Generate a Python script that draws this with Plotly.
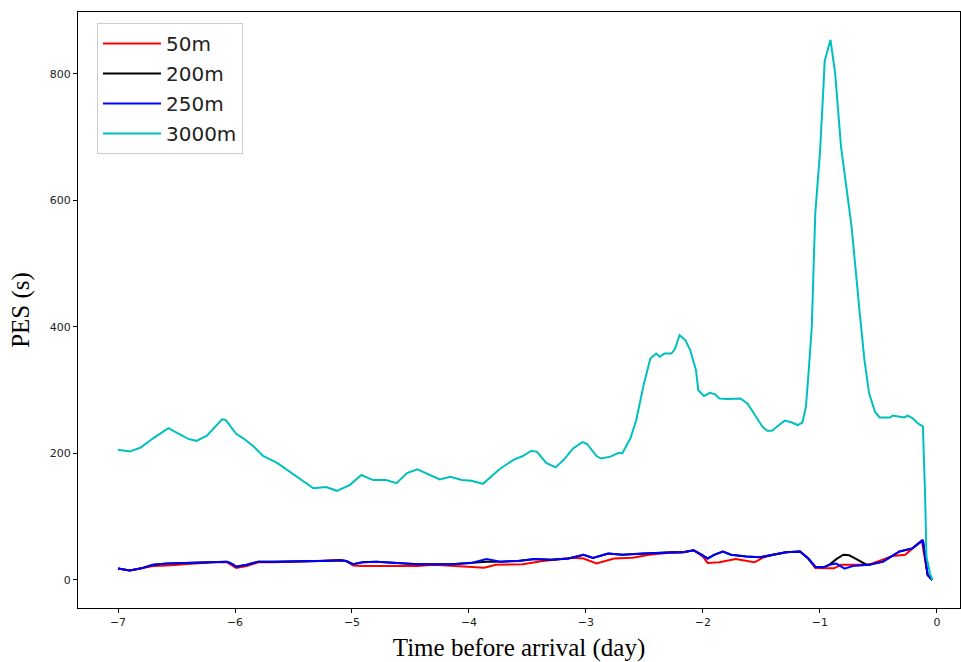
import plotly.graph_objects as go

# 3000m series
x_3000 = [-7.0,-6.9,-6.81,-6.70,-6.57,-6.40,-6.33,-6.24,-6.11,-6.08,-5.99,-5.93,-5.84,-5.76,-5.64,-5.50,-5.42,-5.33,-5.22,-5.13,
          -5.02,-4.92,-4.82,-4.71,-4.62,-4.53,-4.44,-4.25,-4.16,-4.06,-3.98,-3.88,-3.74,-3.62,-3.54,-3.47,-3.42,-3.34,-3.26,-3.19,
          -3.11,-3.03,-2.99,-2.91,-2.87,-2.79,-2.72,-2.69,-2.62,-2.57,-2.51,-2.45,-2.40,-2.37,-2.33,-2.27,-2.24,-2.20,-2.15,-2.11,
          -2.06,-2.04,-1.99,-1.94,-1.90,-1.86,-1.79,-1.68,-1.62,-1.55,-1.49,-1.45,-1.41,-1.35,-1.30,-1.24,-1.19,-1.15,-1.12,-1.10,
          -1.07,-1.04,-1.00,-0.97,-0.96,-0.91,-0.87,-0.82,-0.73,-0.66,-0.62,-0.58,-0.53,-0.49,-0.40,-0.38,-0.32,-0.28,-0.25,-0.21,
          -0.16,-0.12,-0.10,-0.09,-0.06,-0.04]
y_3000 = [206,203,209,224,240,223,220,228,254,253,231,224,211,196,185,167,158,145,147,141,
          150,166,158,158,153,169,175,159,163,158,157,152,175,190,196,204,203,185,178,190,
          208,218,215,196,192,195,201,200,224,253,306,350,358,353,358,358,365,387,379,364,
          332,300,291,296,294,287,286,287,279,258,242,236,236,245,252,249,245,249,274,321,
          400,580,675,780,820,854,801,685,559,422,348,295,266,257,257,260,258,257,260,256,
          247,243,126,37,11,0]

# 250m series
x_250 = [-7.0,-6.9,-6.81,-6.70,-6.58,-6.44,-6.30,-6.19,-6.07,-6.03,-5.99,-5.90,-5.80,-5.67,-5.44,-5.27,-5.10,-5.05,-4.99,-4.91,
         -4.79,-4.59,-4.44,-4.15,-3.98,-3.85,-3.73,-3.58,-3.44,-3.30,-3.15,-3.02,-2.94,-2.81,-2.69,-2.52,-2.29,-2.17,-2.08,-2.01,
         -1.96,-1.90,-1.83,-1.76,-1.63,-1.51,-1.40,-1.29,-1.17,-1.10,-1.04,-0.97,-0.92,-0.86,-0.79,-0.72,-0.58,-0.46,-0.32,-0.21,
         -0.12,-0.08,-0.04]
y_250 = [18,15,18,24,26,27,28,29,29,26,21,24,29,29,29,30,31,30,25,28,
         29,27,25,25,27,33,29,30,33,32,34,40,35,42,40,42,44,44,47,40,
         34,40,45,40,37,36,40,44,45,34,21,20,24,26,18,22,24,29,45,50,
         63,8,0]

# 200m series
x_200 = [-7.0,-6.9,-6.81,-6.70,-6.58,-6.44,-6.30,-6.19,-6.07,-6.03,-5.99,-5.90,-5.80,-5.67,-5.44,-5.27,-5.10,-5.05,-4.99,-4.91,
         -4.79,-4.59,-4.44,-4.15,-3.98,-3.85,-3.73,-3.58,-3.44,-3.30,-3.15,-3.02,-2.94,-2.81,-2.69,-2.52,-2.29,-2.17,-2.08,-2.01,
         -1.96,-1.90,-1.83,-1.76,-1.63,-1.51,-1.40,-1.29,-1.17,-1.10,-1.04,-0.97,-0.92,-0.86,-0.80,-0.75,-0.70,-0.61,-0.58,-0.46,
         -0.32,-0.21,-0.12,-0.08,-0.04]
y_200 = [18,15,18,24,26,27,28,29,29,26,21,24,29,29,29,30,31,30,25,28,
         29,27,25,25,27,29,29,30,33,32,34,40,35,42,40,42,44,44,47,40,
         34,40,45,40,37,36,40,44,45,34,21,20,24,33,40,39,34,25,24,29,
         45,50,63,8,0]

# 50m series
x_50 = [-7.0,-6.9,-6.81,-6.70,-6.58,-6.44,-6.30,-6.19,-6.07,-6.03,-5.99,-5.90,-5.80,-5.67,-5.44,-5.27,-5.10,-5.05,-4.99,-4.91,
        -4.79,-4.59,-4.44,-4.30,-4.15,-4.01,-3.87,-3.77,-3.54,-3.37,-3.11,-3.02,-2.91,-2.76,-2.60,-2.46,-2.29,-2.17,-2.08,-2.00,
        -1.96,-1.86,-1.72,-1.56,-1.48,-1.40,-1.29,-1.17,-1.10,-1.04,-0.88,-0.82,-0.72,-0.58,-0.38,-0.27,-0.19,-0.13,-0.08,-0.04]
y_50 = [18,15,18,22,23,25,27,28,28,24,19,22,28,28,29,30,31,30,23,22,
        22,21,22,24,23,21,19.5,24,25,30,35,34,26,34,35,40,43,44,47,37,
        27,28,33,28,36,40,44,45,34,19,18.5,24,24,24,38,40,53,63,8,0]

series_names = ["50m", "200m", "250m", "3000m"]
series_colors = ["#ff0000", "#000000", "#0000ff", "#00bfbf"]

x_tick_vals = [-7, -6, -5, -4, -3, -2, -1, 0]
x_tick_text = ["\u22127", "\u22126", "\u22125", "\u22124", "\u22123", "\u22122", "\u22121", "0"]
y_tick_vals = [0, 200, 400, 600, 800]
y_tick_text = ["0", "200", "400", "600", "800"]

data = [(x_50, y_50), (x_200, y_200), (x_250, y_250), (x_3000, y_3000)]

fig = go.Figure()
for (xs, ys), name, col in zip(data, series_names, series_colors):
    assert len(xs) == len(ys), name
    fig.add_trace(go.Scatter(x=xs, y=ys, mode="lines", name=name, legendgroup=name,
                             line=dict(color=col, width=2)))

axis_common = dict(showline=True, linecolor="black", linewidth=1, mirror=True,
                   ticks="outside", ticklen=4, tickcolor="black", showgrid=False,
                   zeroline=False, tickfont=dict(family="DejaVu Sans", size=11, color="#222222"))

fig.update_xaxes(range=[-7.342, 0.197], tickvals=x_tick_vals, ticktext=x_tick_text,
                 title=dict(text="Time before arrival (day)", standoff=10,
                            font=dict(family="Liberation Serif", size=25, color="black")),
                 **axis_common)
fig.update_yaxes(range=[-44.3, 898], tickvals=y_tick_vals, ticktext=y_tick_text,
                 title=dict(text="PES (s)", standoff=13,
                            font=dict(family="Liberation Serif", size=25, color="black")),
                 **axis_common)

fig.update_layout(
    width=961, height=662,
    margin=dict(l=78, r=1, t=12, b=54, autoexpand=False),
    plot_bgcolor="white", paper_bgcolor="white",
    legend=dict(x=0.0215, y=0.9815, xanchor="left", yanchor="top",
                bgcolor="white", bordercolor="#cccccc", borderwidth=1,
                font=dict(family="DejaVu Sans", size=20, color="#222222"),
                tracegroupgap=1, itemwidth=58),
    showlegend=True,
)

fig.write_html("out.html", config={"displayModeBar": False})

with open("out.html", "r", encoding="utf-8") as f:
    html = f.read()
html = html.replace("<head>", "<head><style>html,body{margin:0;padding:0;}</style>", 1)
with open("out.html", "w", encoding="utf-8") as f:
    f.write(html)
